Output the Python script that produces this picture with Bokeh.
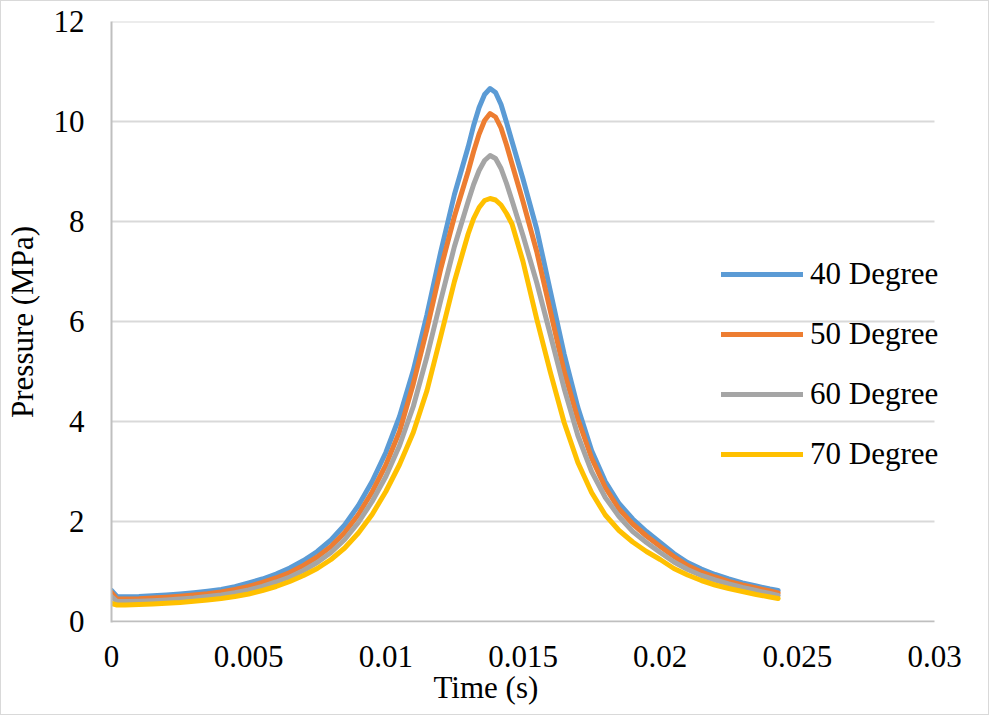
from bokeh.plotting import figure
from bokeh.models import Range1d, FixedTicker, Legend, LegendItem, Title
from bokeh.embed import file_html
from bokeh.resources import INLINE

time_s = [0, 0.0002, 0.0005, 0.001, 0.0015, 0.002, 0.0025, 0.003, 0.0035, 0.004,
          0.0045, 0.005, 0.0055, 0.006, 0.0065, 0.007, 0.0075, 0.008, 0.0085, 0.009,
          0.0095, 0.010, 0.0105, 0.011, 0.0115, 0.012, 0.0125, 0.013, 0.0132, 0.0134,
          0.0136, 0.0138, 0.014, 0.0142, 0.0144, 0.0146, 0.015, 0.0155, 0.016, 0.0165,
          0.017, 0.0175, 0.018, 0.0185, 0.019, 0.0195, 0.020, 0.0205, 0.021, 0.0215,
          0.022, 0.0225, 0.023, 0.0235, 0.024, 0.0243]

p40 = [0.62, 0.50, 0.495, 0.50, 0.515, 0.53, 0.55, 0.575, 0.605, 0.64,
       0.695, 0.77, 0.85, 0.95, 1.07, 1.22, 1.40, 1.63, 1.93, 2.32,
       2.80, 3.38, 4.10, 5.02, 6.14, 7.39, 8.54, 9.49, 9.92, 10.28,
       10.54, 10.66, 10.58, 10.34, 9.98, 9.60, 8.85, 7.85, 6.60, 5.35,
       4.28, 3.42, 2.80, 2.36, 2.05, 1.80, 1.58, 1.36, 1.18, 1.05,
       0.94, 0.85, 0.77, 0.71, 0.65, 0.62]
p50 = [0.58, 0.45, 0.45, 0.455, 0.47, 0.485, 0.505, 0.53, 0.555, 0.59,
       0.64, 0.70, 0.78, 0.87, 0.98, 1.12, 1.29, 1.50, 1.78, 2.14,
       2.59, 3.13, 3.80, 4.75, 5.85, 7.05, 8.10, 9.00, 9.40, 9.75,
       10.02, 10.16, 10.09, 9.87, 9.53, 9.15, 8.40, 7.40, 6.20, 5.00,
       4.05, 3.27, 2.68, 2.25, 1.95, 1.71, 1.50, 1.30, 1.12, 0.99,
       0.89, 0.80, 0.73, 0.67, 0.61, 0.57]
p60 = [0.50, 0.40, 0.40, 0.405, 0.415, 0.43, 0.45, 0.47, 0.50, 0.53,
       0.575, 0.63, 0.70, 0.79, 0.89, 1.02, 1.18, 1.38, 1.64, 1.98,
       2.40, 2.90, 3.52, 4.30, 5.30, 6.42, 7.50, 8.40, 8.74, 9.02,
       9.22, 9.32, 9.26, 9.06, 8.76, 8.42, 7.72, 6.78, 5.73, 4.66,
       3.72, 3.00, 2.48, 2.10, 1.80, 1.58, 1.38, 1.19, 1.04, 0.92,
       0.83, 0.75, 0.68, 0.62, 0.56, 0.52]
p70 = [0.36, 0.33, 0.33, 0.34, 0.35, 0.365, 0.38, 0.405, 0.43, 0.46,
       0.50, 0.55, 0.62, 0.70, 0.80, 0.92, 1.06, 1.24, 1.47, 1.77,
       2.14, 2.60, 3.14, 3.78, 4.62, 5.70, 6.80, 7.75, 8.06, 8.28,
       8.42, 8.46, 8.43, 8.33, 8.16, 7.95, 7.20, 6.05, 4.98, 3.98,
       3.18, 2.58, 2.13, 1.82, 1.59, 1.40, 1.24, 1.06, 0.93, 0.82,
       0.73, 0.66, 0.60, 0.54, 0.49, 0.46]

series_names = ["40 Degree", "50 Degree", "60 Degree", "70 Degree"]
series_values = [p40, p50, p60, p70]
series_colors = ["#5B9BD5", "#ED7D31", "#A5A5A5", "#FFC000"]

x_ticks = [0, 0.005, 0.01, 0.015, 0.02, 0.025, 0.03]
x_tick_labels = ["0", "0.005", "0.01", "0.015", "0.02", "0.025", "0.03"]
y_ticks = [0, 2, 4, 6, 8, 10, 12]

X_MIN, X_MAX = 0, 0.03
Y_MIN, Y_MAX = 0, 12

FONT = "Liberation Serif"
FS = "31px"

# the frame is a little wider than the axis so the legend text is not clipped
p = figure(width=989, height=715, output_backend="svg", toolbar_location=None,
           x_range=Range1d(X_MIN, X_MAX * 847 / 823), y_range=Range1d(Y_MIN - 0.02, Y_MAX),
           min_border_left=110, min_border_right=32, min_border_top=20, min_border_bottom=94,
           background_fill_color="white", border_fill_color="white",
           outline_line_color=None)
p.styles = {"border": "1px solid #d9d9d9"}

# horizontal gridlines and the x axis line, limited to the axis extent
grid_y = [v for v in y_ticks if v != Y_MIN]
p.segment(x0=[X_MIN] * len(grid_y), x1=[X_MAX] * len(grid_y), y0=grid_y, y1=grid_y,
          line_color="#D9D9D9", line_width=2)
p.segment(x0=[X_MIN], x1=[X_MAX], y0=[Y_MIN], y1=[Y_MIN], line_color="#BFBFBF", line_width=2)

items = []
for name, vals, col in zip(series_names, series_values, series_colors):
    r = p.line(time_s, vals, line_color=col, line_width=5, line_cap="round", line_join="round")
    items.append(LegendItem(label=name, renderers=[r]))

p.xaxis.ticker = FixedTicker(ticks=x_ticks)
p.xaxis.major_label_overrides = {t: l for t, l in zip(x_ticks, x_tick_labels)}
p.yaxis.ticker = FixedTicker(ticks=y_ticks)

for ax in (p.xaxis[0], p.yaxis[0]):
    ax.axis_line_color = "#BFBFBF"
    ax.axis_line_width = 2
    ax.major_tick_line_color = None
    ax.minor_tick_line_color = None
    ax.major_tick_out = 0
    ax.major_tick_in = 0
    ax.major_label_text_font = FONT
    ax.major_label_text_font_size = FS
    ax.major_label_text_color = "black"
    ax.axis_label_text_font = FONT
    ax.axis_label_text_font_size = FS
    ax.axis_label_text_font_style = "normal"
    ax.axis_label_text_color = "black"
p.xaxis.axis_line_color = None
p.xaxis.axis_label = None

p.xaxis.major_label_standoff = 23
p.yaxis.major_label_standoff = 27
p.yaxis.axis_label = "Pressure (MPa)"
p.yaxis.axis_label_standoff = 11

p.xgrid.grid_line_color = None
p.ygrid.grid_line_color = None

xtitle = Title(text="Time (s)", align="left", offset=322, standoff=0, vertical_align="top",
               text_font=FONT, text_font_size=FS, text_font_style="normal",
               text_color="black")
p.add_layout(xtitle, "below")

legend = Legend(items=items, location=(610, 148), orientation="vertical",
                glyph_width=82, glyph_height=40, label_height=40, spacing=20,
                label_standoff=7, padding=0, margin=0,
                label_text_font=FONT, label_text_font_size=FS, label_text_color="black",
                border_line_color=None, background_fill_alpha=0)
p.add_layout(legend, "center")

open("out.html", "w").write(file_html(p, INLINE))
